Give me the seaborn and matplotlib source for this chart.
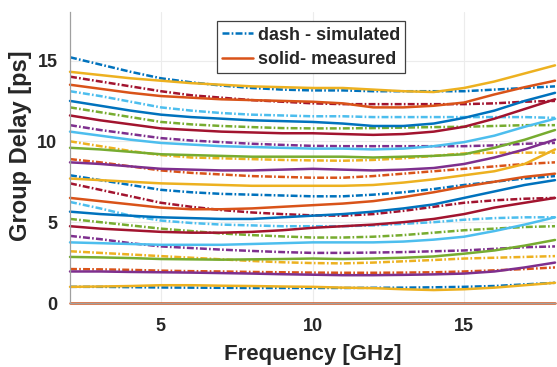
import matplotlib
matplotlib.use("Agg")
import matplotlib.pyplot as plt
import seaborn as sns
import pandas as pd
from matplotlib.lines import Line2D

# Frequency axis (GHz)
freq = [2, 3, 4, 5, 6, 7, 8, 9, 10, 11, 12, 13, 14, 15, 16, 17, 18]

# Simulated group delay per trace (ps), dash-dot lines
sim_delay = [
    [1.0, 1.0, 0.98, 0.96, 0.95, 0.94, 0.93, 0.93, 0.93, 0.93, 0.94, 0.95, 0.97, 1.0, 1.05, 1.15, 1.25],
    [2.1, 2.08, 2.05, 2.0, 1.97, 1.95, 1.92, 1.9, 1.88, 1.87, 1.87, 1.88, 1.9, 1.95, 2.02, 2.1, 2.2],
    [3.2, 3.1, 3.0, 2.9, 2.8, 2.7, 2.6, 2.52, 2.47, 2.45, 2.5, 2.58, 2.66, 2.75, 2.8, 2.85, 2.9],
    [4.15, 3.95, 3.7, 3.5, 3.4, 3.3, 3.22, 3.15, 3.1, 3.1, 3.12, 3.15, 3.2, 3.25, 3.35, 3.45, 3.5],
    [5.2, 5.0, 4.8, 4.6, 4.45, 4.3, 4.2, 4.12, 4.05, 4.05, 4.1, 4.2, 4.35, 4.5, 4.6, 4.7, 4.75],
    [6.25, 5.85, 5.4, 5.1, 4.95, 4.85, 4.8, 4.75, 4.75, 4.75, 4.8, 4.9, 5.0, 5.15, 5.25, 5.3, 5.3],
    [7.4, 7.0, 6.6, 6.2, 5.95, 5.75, 5.6, 5.5, 5.42, 5.4, 5.5, 5.7, 5.95, 6.2, 6.35, 6.45, 6.5],
    [7.9, 7.6, 7.3, 7.0, 6.85, 6.75, 6.7, 6.65, 6.6, 6.6, 6.7, 6.85, 7.05, 7.3, 7.5, 7.7, 7.85],
    [8.9, 8.7, 8.45, 8.2, 8.05, 7.95, 7.85, 7.8, 7.75, 7.75, 7.85, 8.0, 8.15, 8.3, 8.45, 8.6, 8.7],
    [10.0, 9.7, 9.4, 9.15, 9.0, 8.95, 8.9, 8.85, 8.82, 8.8, 8.85, 8.95, 9.1, 9.25, 9.3, 9.3, 9.3],
    [11.0, 10.7, 10.45, 10.2, 10.05, 9.95, 9.85, 9.78, 9.72, 9.7, 9.7, 9.7, 9.7, 9.7, 9.75, 9.85, 9.9],
    [12.1, 11.8, 11.5, 11.2, 11.05, 10.95, 10.88, 10.82, 10.8, 10.8, 10.82, 10.85, 10.88, 10.9, 10.95, 11.0, 11.0],
    [13.1, 12.8, 12.45, 12.1, 11.9, 11.75, 11.65, 11.6, 11.55, 11.55, 11.5, 11.5, 11.5, 11.5, 11.5, 11.5, 11.45],
    [14.0, 13.7, 13.4, 13.1, 12.85, 12.7, 12.55, 12.45, 12.35, 12.3, 12.3, 12.3, 12.3, 12.3, 12.35, 12.45, 12.5],
    [15.2, 14.75, 14.3, 13.9, 13.65, 13.45, 13.3, 13.2, 13.15, 13.15, 13.1, 13.1, 13.1, 13.1, 13.2, 13.3, 13.4],
]

# Measured group delay per trace (ps), solid lines; first trace is the reference at 0
meas_delay = [
    [0.0] * 17,
    [1.0, 1.02, 1.05, 1.1, 1.1, 1.07, 1.05, 1.02, 1.0, 0.95, 0.92, 0.85, 0.8, 0.85, 0.95, 1.1, 1.25],
    [1.95, 1.95, 1.92, 1.9, 1.88, 1.85, 1.82, 1.78, 1.75, 1.72, 1.72, 1.74, 1.77, 1.82, 1.95, 2.2, 2.5],
    [2.85, 2.82, 2.78, 2.72, 2.7, 2.68, 2.7, 2.72, 2.75, 2.72, 2.75, 2.8, 2.88, 3.05, 3.25, 3.55, 3.9],
    [3.75, 3.7, 3.65, 3.6, 3.6, 3.6, 3.65, 3.7, 3.75, 3.75, 3.75, 3.8, 3.92, 4.1, 4.45, 4.85, 5.3],
    [4.75, 4.6, 4.5, 4.4, 4.35, 4.35, 4.4, 4.5, 4.65, 4.75, 4.85, 5.0, 5.2, 5.5, 5.9, 6.2, 6.5],
    [5.65, 5.5, 5.4, 5.3, 5.25, 5.2, 5.2, 5.3, 5.4, 5.5, 5.65, 5.85, 6.1, 6.5, 6.9, 7.3, 7.6],
    [6.5, 6.3, 6.1, 5.9, 5.8, 5.8, 5.85, 5.95, 6.05, 6.15, 6.3, 6.55, 6.85, 7.2, 7.5, 7.8, 8.0],
    [7.7, 7.6, 7.5, 7.4, 7.35, 7.3, 7.25, 7.25, 7.25, 7.25, 7.3, 7.45, 7.65, 7.9, 8.15, 8.6, 9.5],
    [8.7, 8.6, 8.45, 8.3, 8.25, 8.2, 8.2, 8.25, 8.3, 8.25, 8.2, 8.25, 8.35, 8.6, 9.0, 9.5, 10.1],
    [9.6, 9.5, 9.35, 9.2, 9.15, 9.1, 9.05, 9.05, 9.05, 9.05, 9.0, 9.05, 9.1, 9.2, 9.6, 10.1, 10.7],
    [10.6, 10.35, 10.1, 9.9, 9.8, 9.7, 9.65, 9.6, 9.55, 9.55, 9.5, 9.55, 9.7, 9.95, 10.35, 10.9, 11.4],
    [11.6, 11.3, 11.05, 10.8, 10.7, 10.6, 10.55, 10.5, 10.5, 10.45, 10.4, 10.45, 10.6, 10.9, 11.4, 12.0, 12.6],
    [12.5, 12.2, 11.9, 11.65, 11.5, 11.4, 11.3, 11.25, 11.2, 11.1, 10.95, 10.95, 11.1, 11.45, 11.9, 12.5, 13.0],
    [13.5, 13.25, 13.0, 12.8, 12.7, 12.6, 12.55, 12.5, 12.45, 12.35, 12.1, 12.1, 12.2, 12.4, 12.9, 13.35, 13.75],
    [14.3, 14.1, 13.9, 13.75, 13.6, 13.5, 13.4, 13.35, 13.3, 13.3, 13.2, 13.1, 13.05, 13.3, 13.7, 14.2, 14.7],
]

legend_labels = ["dash - simulated", "solid- measured"]

# MATLAB-style colour order
palette = ["#0072BD", "#D95319", "#EDB120", "#7E2F8E", "#77AC30", "#4DBEEE", "#A2142F"]

sns.set_style("white")
plt.rcParams["font.family"] = ["Liberation Sans", "DejaVu Sans"]
plt.rcParams["font.weight"] = "bold"
plt.rcParams["lines.scale_dashes"] = False

fig = plt.figure(figsize=(5.57, 3.67), dpi=100)
ax = fig.add_axes([70 / 557, 1 - 303 / 367, 485 / 557, 291 / 367])

dashdot = (0, (5.0, 1.6, 1.2, 1.6))
lw = 1.8

for i, vals in enumerate(sim_delay):
    df = pd.DataFrame({"f": freq, "d": vals})
    sns.lineplot(data=df, x="f", y="d", ax=ax, color=palette[i % 7],
                 linestyle=dashdot, lw=lw, legend=False)

for i, vals in enumerate(meas_delay):
    df = pd.DataFrame({"f": freq, "d": vals})
    sns.lineplot(data=df, x="f", y="d", ax=ax, color=palette[(i + 1) % 7],
                 linestyle="-", lw=lw, legend=False, clip_on=False)

ax.set_xlim(2, 18)
ax.set_ylim(0, 18)
ax.set_xticks([5, 10, 15])
ax.set_yticks([0, 5, 10, 15])
ax.tick_params(direction="in", length=3, width=0.8, colors="#9a9a9a",
               labelcolor="#262626", labelsize=13)
ax.tick_params(axis="x", pad=11)
ax.tick_params(axis="y", pad=9)
for lab in ax.get_xticklabels() + ax.get_yticklabels():
    lab.set_fontweight("bold")

ax.grid(True, color="#ececec", lw=0.8)
ax.set_axisbelow(True)
for side in ["top", "right"]:
    ax.spines[side].set_visible(False)
for side in ["left", "bottom"]:
    ax.spines[side].set_color("#a0a0a0")
    ax.spines[side].set_linewidth(0.9)

ax.set_xlabel("Frequency [GHz]", fontsize=16, fontweight="bold", color="#262626", labelpad=6)
ax.set_ylabel("Group Delay [ps]", fontsize=17, fontweight="bold", color="#262626")
ax.yaxis.set_label_coords(-0.078, 0.54)

handles = [
    Line2D([], [], color=palette[0], linestyle=dashdot, lw=lw),
    Line2D([], [], color=palette[1], linestyle="-", lw=lw),
]
leg = ax.legend(handles, legend_labels, loc="upper left", bbox_to_anchor=(0.303, 0.968),
                prop={"weight": "bold", "size": 13}, frameon=True, fancybox=False,
                edgecolor="#404040", framealpha=1, handlelength=1.7, handletextpad=0.25,
                borderpad=0.3, labelspacing=0.4, borderaxespad=0)
leg.get_frame().set_linewidth(0.9)
for t in leg.get_texts():
    t.set_color("#262626")

fig.savefig("out.png", dpi=100)
